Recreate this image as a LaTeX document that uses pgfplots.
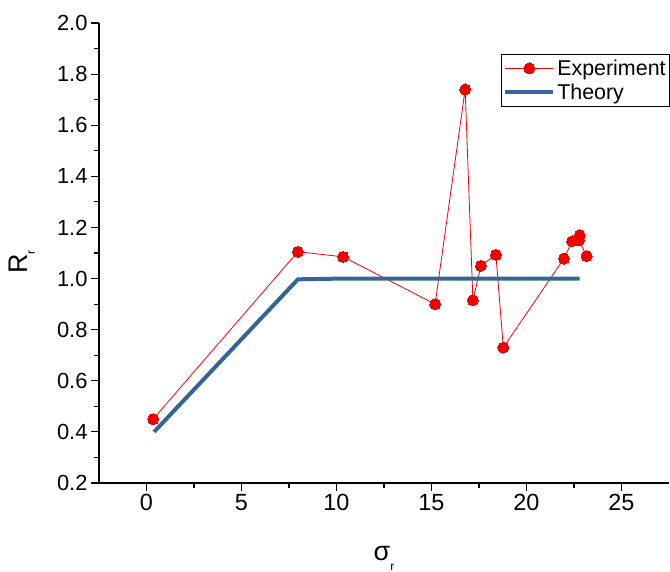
\documentclass[border=0pt]{standalone}
\usepackage{fontspec}
\setmainfont{Liberation Sans}
\usepackage{pgfplots}
\pgfplotsset{compat=1.18}
\definecolor{theory}{RGB}{52,101,153}
\definecolor{expred}{RGB}{240,0,0}
\begin{document}
\begin{tikzpicture}
\begin{axis}[
  scale only axis,
  width=570bp, height=460bp,
  xmin=-2.5, xmax=27.5, ymin=0.2, ymax=2.0,
  axis x line*=bottom, axis y line*=left,
  axis line style={-, line width=1.2bp, black},
  xtick={0,5,...,25}, minor x tick num=1,
  ytick={0.2,0.4,...,2.0}, minor y tick num=1,
  tick align=outside,
  major tick length=8bp, minor tick length=4.5bp,
  every tick/.style={black, line width=1.1bp},
  /pgf/number format/assume math mode=true,
  yticklabel style={font=\fontsize{22}{26}\selectfont, /pgf/number format/.cd, fixed, fixed zerofill, precision=1},
  xticklabel style={font=\fontsize{23.5}{27}\selectfont, /pgf/number format/.cd, fixed},
  every axis y label/.style={at={(axis description cs:-0.135,0.48)}, rotate=90, anchor=center},
  every axis x label/.style={at={(axis description cs:0.5,-0.163)}, anchor=center},
  ylabel={\fontsize{27}{30}\selectfont R\raisebox{-7bp}{\fontsize{12}{13}\selectfont r}},
  xlabel={\fontsize{27}{30}\selectfont σ\raisebox{-10bp}{\fontsize{12}{13}\selectfont r}},
  legend style={at={(rel axis cs:0.705,0.933)}, anchor=north west, draw=black, line width=0.9bp,
    font=\fontsize{21.5}{26}\selectfont, inner xsep=2bp, inner ysep=3.5bp, row sep=3bp},
  legend cell align=left,
  legend image code/.code={\draw[mark repeat=2,mark phase=2,#1] plot coordinates {(0bp,0bp) (24bp,0bp) (48bp,0bp)};},
]
\addplot[expred, line width=0.8bp, mark=*, mark size=5.5bp, mark options={fill=expred, draw=expred, line width=0bp}]
  coordinates {(0.35,0.45) (7.97,1.105) (10.35,1.085) (15.19,0.90) (16.77,1.74) (17.18,0.915) (17.6,1.05) (18.39,1.093) (18.78,0.73) (21.97,1.078) (22.4,1.146) (22.8,1.17) (22.76,1.15) (23.16,1.088)};
\addlegendentry{Experiment}
\addplot[theory, line width=4bp, no markers]
  coordinates {(0.4,0.40) (7.97,0.997) (10.35,1.0) (15.19,1.0) (22.8,1.0)};
\addlegendentry{Theory}
\end{axis}
\pgfresetboundingbox
\path[use as bounding box] (-99bp,-89bp) rectangle (571bp,483bp);
\end{tikzpicture}
\end{document}
